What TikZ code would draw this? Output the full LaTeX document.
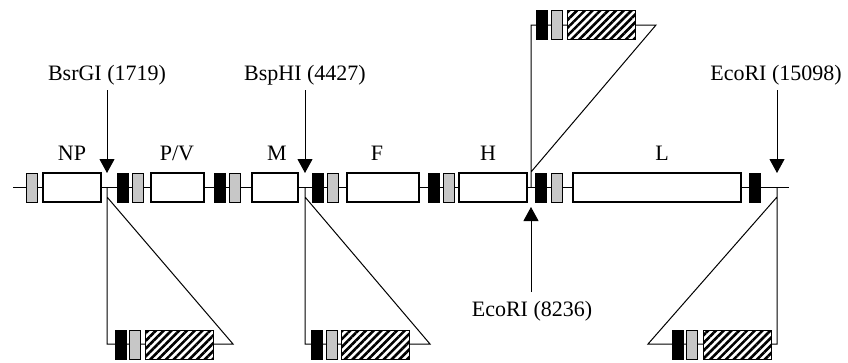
\documentclass[tikz,border=0pt]{standalone}
\usepackage{fontspec}
\setmainfont{Liberation Serif}
\usetikzlibrary{arrows.meta,patterns.meta}
\begin{document}
\begin{tikzpicture}[x=1pt,y=-1pt,
  every node/.style={inner sep=0pt, outer sep=0pt},
  gene/.style={draw, fill=white, line width=1.1pt, minimum height=29pt},
  blk/.style={draw, fill=black, line width=1pt, minimum height=29pt, minimum width=11pt},
  stip/.style={draw, fill=black!22, line width=1pt, minimum height=29pt, minimum width=11pt},
  hatchbox/.style={draw, line width=1pt, minimum height=29pt, minimum width=68pt, preaction={fill=white},
    pattern={Lines[angle=45,distance=5.5pt,line width=2.6pt]}},
  lbl/.style={font=\fontsize{22}{24}\selectfont, anchor=base},
  arr/.style={line width=1pt, -{Triangle[width=15pt,length=14pt]}},
  ln/.style={line width=1pt},
]
\useasboundingbox (0,0) rectangle (848,362);

% backbone
\coordinate (bbA) at (13,187);
\coordinate (bbB) at (789,187);
\draw[ln] (bbA) -- (bbB);

% genome elements
\node[stip] (s0) at (32,187.5) {};
\node[gene, minimum width=58pt] (np) at (72,187.5) {};
\node[blk] (b1) at (122.5,187.5) {};
\node[stip] (s1) at (137.5,187.5) {};
\node[gene, minimum width=53pt] (pv) at (177.5,187.5) {};
\node[blk] (b2) at (220,187.5) {};
\node[stip] (s2) at (235,187.5) {};
\node[gene, minimum width=46pt] (m) at (275,187.5) {};
\node[blk] (b3) at (318,187.5) {};
\node[stip] (s3) at (333,187.5) {};
\node[gene, minimum width=72pt] (f) at (383,187.5) {};
\node[blk] (b4) at (434,187.5) {};
\node[stip] (s4) at (449,187.5) {};
\node[gene, minimum width=68pt] (h) at (493,187.5) {};
\node[blk] (b5) at (541,187.5) {};
\node[stip] (s5) at (556.5,187.5) {};
\node[gene, minimum width=168pt] (l) at (657,187.5) {};
\node[blk] (b6) at (755,187.5) {};

% gene labels
\node[lbl] (tnp) at (72,160) {NP};
\node[lbl] (tpv) at (177,160) {P/V};
\node[lbl] (tm) at (277,160) {M};
\node[lbl] (tf) at (377,160) {F};
\node[lbl] (th) at (488,160) {H};
\node[lbl] (tl) at (662,160) {L};

% restriction site labels and arrows
\node[lbl] (r1) at (107,80) {BsrGI (1719)};
\node[lbl] (r2) at (305,80) {BspHI (4427)};
\node[lbl] (r3) at (776,80) {EcoRI (15098)};
\node[lbl] (r4) at (532,316) {EcoRI (8236)};
\coordinate (a1) at (107,173);
\coordinate (a2) at (305,173);
\coordinate (a3) at (777,173);
\coordinate (a4) at (531,207);
\draw[arr] (a1 |- 0,90) -- (a1);
\draw[arr] (a2 |- 0,90) -- (a2);
\draw[arr] (a3 |- 0,90) -- (a3);
\draw[arr] (a4 |- 0,292) -- (a4);

% insert 1 (BsrGI)
\coordinate (i1a) at (107,187);
\coordinate (i1d) at (107,197);
\coordinate (i1b) at (107,344);
\coordinate (i1c) at (233,344);
\draw[ln] (i1a) -- (i1b) -- (i1c) -- (i1d);
\node[blk] (i1k) at (120.5,344.5) {};
\node[stip] (i1s) at (134.5,344.5) {};
\node[hatchbox] (i1h) at (179,344.5) {};

% insert 2 (BspHI)
\coordinate (i2a) at (305,187);
\coordinate (i2d) at (305,197);
\coordinate (i2b) at (305,344);
\coordinate (i2c) at (430,344);
\draw[ln] (i2a) -- (i2b) -- (i2c) -- (i2d);
\node[blk] (i2k) at (317,344.5) {};
\node[stip] (i2s) at (331.5,344.5) {};
\node[hatchbox] (i2h) at (375.5,344.5) {};

% insert 3 (EcoRI 15098)
\coordinate (i3a) at (777,187);
\coordinate (i3d) at (777,197);
\coordinate (i3b) at (777,344);
\coordinate (i3c) at (648,344);
\draw[ln] (i3a) -- (i3b) -- (i3c) -- (i3d);
\node[blk] (i3k) at (678,344.5) {};
\node[stip] (i3s) at (692,344.5) {};
\node[hatchbox] (i3h) at (737,344.5) {};

% insert 4 (EcoRI 8236, top)
\coordinate (i4a) at (531,187);
\coordinate (i4d) at (531,172);
\coordinate (i4b) at (531,25);
\coordinate (i4c) at (656,25);
\draw[ln] (i4a) -- (i4b) -- (i4c) -- (i4d);
\node[blk] (i4k) at (542,25) {};
\node[stip] (i4s) at (556.5,25) {};
\node[hatchbox] (i4h) at (601,25) {};
\end{tikzpicture}
\end{document}
